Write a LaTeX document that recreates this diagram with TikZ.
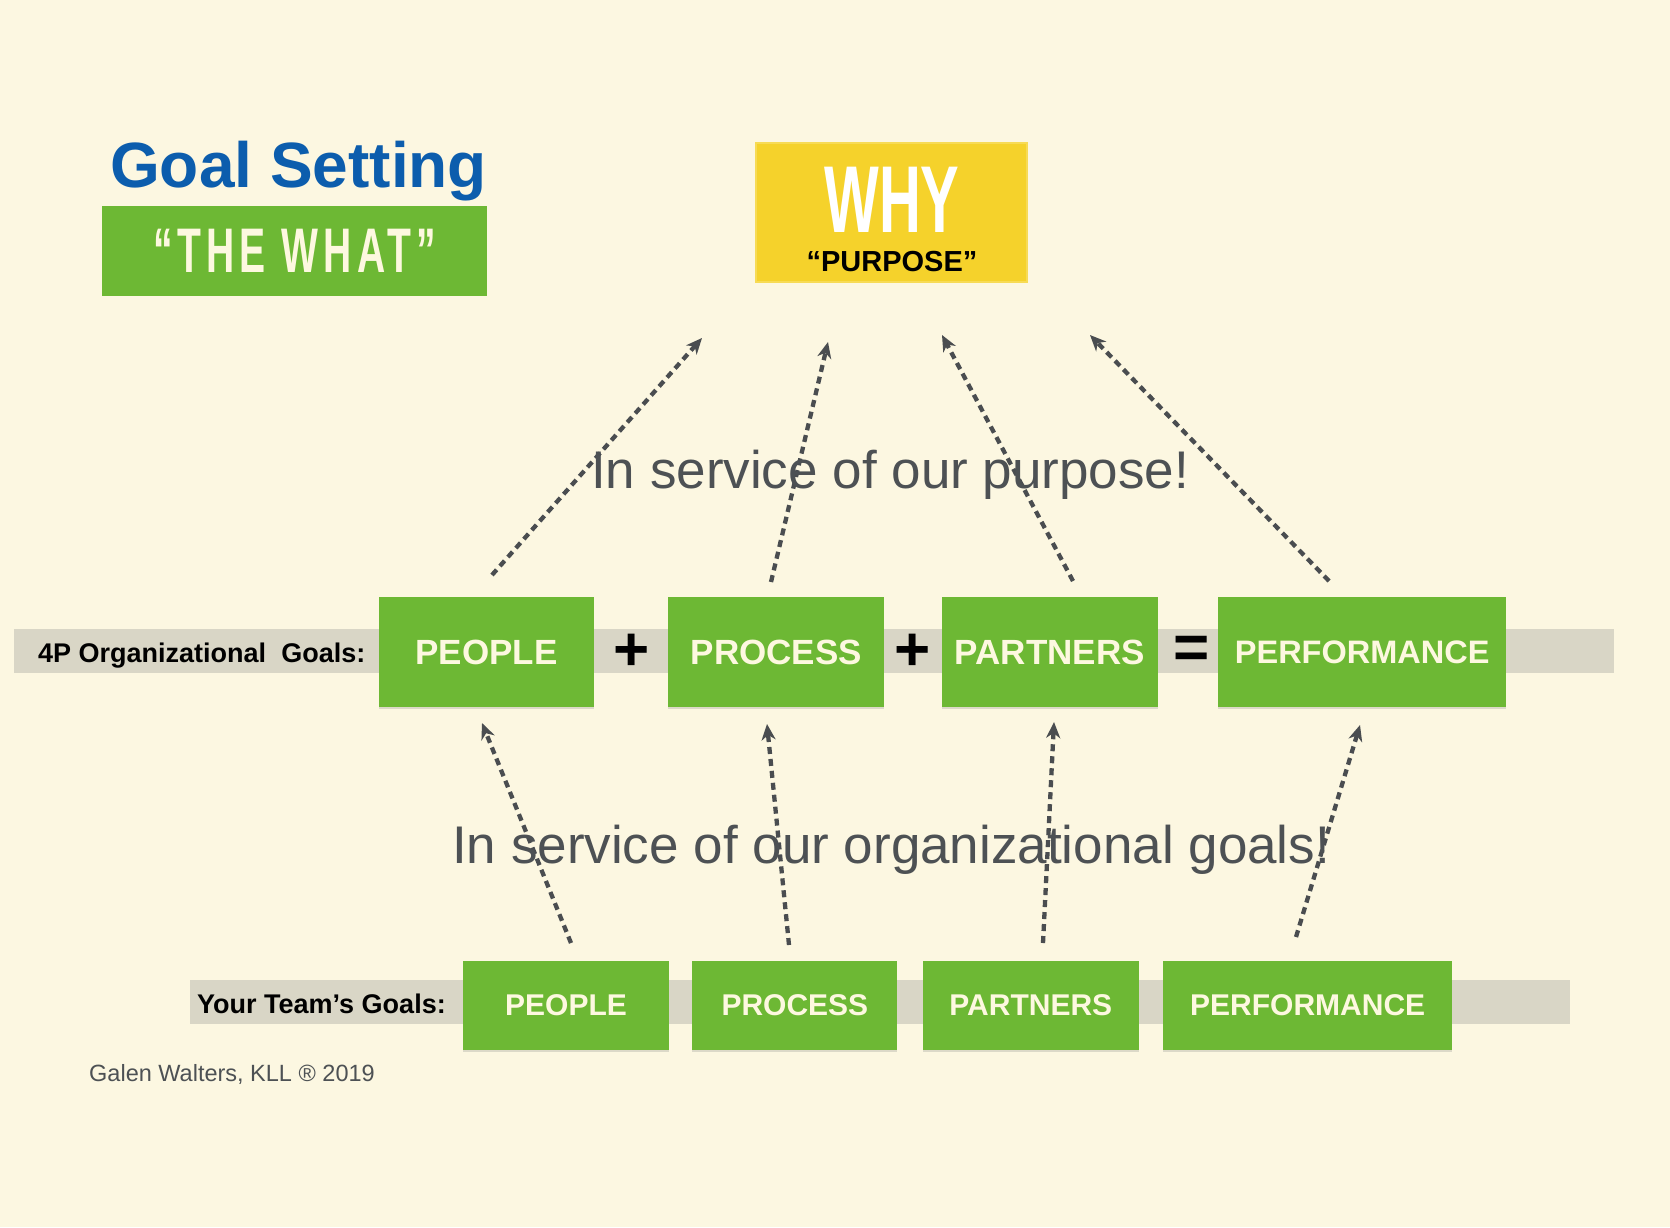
\documentclass[tikz,border=0pt]{standalone}
\usepackage{fontspec}
\setmainfont{Liberation Sans}
\newfontfamily\gothicfont[FakeStretch=0.62,LetterSpace=8]{Liberation Sans Bold}
\newfontfamily\whyfont[FakeStretch=0.61]{Liberation Sans Bold}
\usetikzlibrary{arrows.meta, positioning, shadows}

\definecolor{paper}{HTML}{FCF7E1}
\definecolor{goalgreen}{HTML}{6DB834}
\definecolor{cream}{HTML}{FDF8E0}
\definecolor{bandgray}{HTML}{D9D6C6}
\definecolor{goalblue}{HTML}{0C5DAD}
\definecolor{whyyellow}{HTML}{F5D22B}
\definecolor{arrowgray}{HTML}{4A4D50}
\definecolor{textgray}{HTML}{4D5154}

\tikzstyle{orggoal} = [rectangle, minimum width=216pt, minimum height=110pt, inner sep=0pt, fill=goalgreen, text=cream, font=\fontsize{35}{40}\selectfont\bfseries, drop shadow={shadow xshift=0pt, shadow yshift=-2pt, opacity=0.25}]
\tikzstyle{teamgoal} = [rectangle, minimum width=206pt, minimum height=89pt, inner sep=0pt, fill=goalgreen, text=cream, font=\fontsize{30}{34}\selectfont\bfseries, drop shadow={shadow xshift=0pt, shadow yshift=-2pt, opacity=0.25}]
\tikzstyle{band} = [rectangle, inner sep=0pt, fill=bandgray]
\tikzstyle{sign} = [inner sep=0pt, font=\fontsize{62}{62}\selectfont\bfseries]
\tikzstyle{service} = [anchor=base west, inner sep=0pt, text=textgray, font=\fontsize{53}{60}\selectfont]
\tikzstyle{arrow} = [line width=4.3pt, draw=arrowgray, dash pattern=on 7pt off 5pt, -{Stealth[length=16pt,width=14pt,inset=5pt]}]

\begin{document}
\begin{tikzpicture}[x=1pt, y=-1pt]

% Background
\fill[paper] (0,0) rectangle (1670,1227);
\useasboundingbox (0,0) rectangle (1670,1227);

% Title
\node (title) [anchor=base west, inner sep=0pt, text=goalblue, font=\fontsize{64}{70}\selectfont\bfseries] at (110,187) {Goal Setting};
\node (what) [rectangle, fill=goalgreen, minimum width=385pt, minimum height=90pt, text=cream, font=\gothicfont\fontsize{63}{70}\selectfont] at (294.5,251) {“THE WHAT”};

% Purpose box
\node (whybox) [rectangle, fill=whyyellow, draw=whyyellow!80!white, line width=2pt, minimum width=271pt, minimum height=139pt] at (891.5,212.5) {};
\node (why) [anchor=base, inner sep=0pt, text=white, font=\whyfont\fontsize{95}{100}\selectfont] at (892,232) {WHY};
\node (purpose) [anchor=base, inner sep=0pt, text=black, font=\fontsize{29}{32}\selectfont\bfseries] at (892,271) {“PURPOSE”};

% Bands
\node (orgband) [band, minimum width=1600pt, minimum height=44pt] at (814,651) {};
\node (teamband) [band, minimum width=1380pt, minimum height=44pt] at (880,1002) {};
\node (orglabel) [anchor=base west, inner sep=0pt, font=\fontsize{27}{30}\selectfont\bfseries] at (38,662) {4P Organizational\ \ Goals:};
\node (teamlabel) [anchor=base west, inner sep=0pt, font=\fontsize{27}{30}\selectfont\bfseries] at (197,1013) {Your Team’s Goals:};

% Organizational goals
\node (people) [orggoal, minimum width=215pt] at (486.5,652) {PEOPLE};
\node (process) [orggoal, right=74pt of people] {PROCESS};
\node (partners) [orggoal, right=57pt of process] {PARTNERS};
\node (performance) [orggoal, minimum width=288pt, right=60pt of partners, font=\fontsize{32.5}{38}\selectfont\bfseries] {PERFORMANCE};
\node (plusa) [sign] at (632,652) {+};
\node (plusb) [sign] at (913,652) {+};
\node (equals) [sign] at (1192,652) {=};

% Team goals
\node (tpeople) [teamgoal] at (566,1005.5) {PEOPLE};
\node (tprocess) [teamgoal, minimum width=205pt, right=23pt of tpeople] {PROCESS};
\node (tpartners) [teamgoal, minimum width=216pt, right=25pt of tprocess] {PARTNERS};
\node (tperformance) [teamgoal, minimum width=289pt, right=24pt of tpartners] {PERFORMANCE};

% Arrow ends
\coordinate (ua) at (492,575);  \coordinate (uah) at (702,338);
\coordinate (ub) at (771,582);  \coordinate (ubh) at (828,342);
\coordinate (uc) at (1073,581); \coordinate (uch) at (942,335);
\coordinate (ud) at (1329,581); \coordinate (udh) at (1090,335);
\coordinate (la) at (571,943);  \coordinate (lah) at (482,723);
\coordinate (lb) at (789,945);  \coordinate (lbh) at (767,724);
\coordinate (lc) at (1043,943); \coordinate (lch) at (1054,722);
\coordinate (ld) at (1296,937); \coordinate (ldh) at (1360,725);

% Arrows
\draw [arrow] (ua) -- (uah);
\draw [arrow] (ub) -- (ubh);
\draw [arrow] (uc) -- (uch);
\draw [arrow] (ud) -- (udh);
\draw [arrow] (la) -- (lah);
\draw [arrow] (lb) -- (lbh);
\draw [arrow] (lc) -- (lch);
\draw [arrow] (ld) -- (ldh);

% Captions
\node (upcaption) [service] at (591,488) {In service of our purpose!};
\node (lowcaption) [service] at (452,863) {In service of our organizational goals!};
\node (credit) [anchor=base west, inner sep=0pt, text=textgray, font=\fontsize{23.5}{27}\selectfont] at (89,1081) {Galen Walters, KLL ® 2019};

\end{tikzpicture}
\end{document}
